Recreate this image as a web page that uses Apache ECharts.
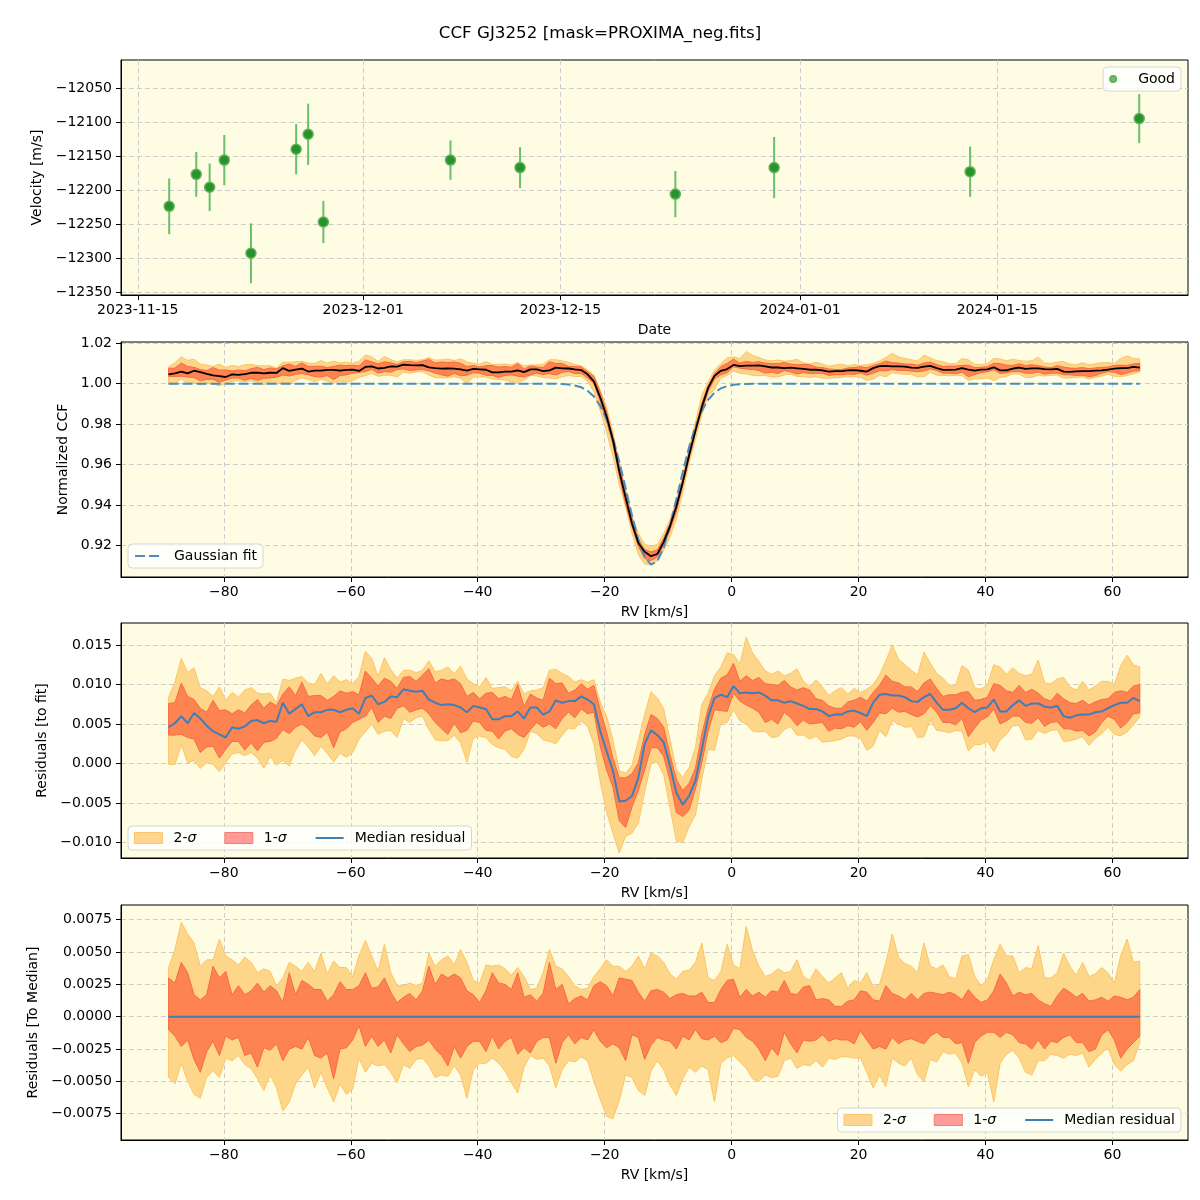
<!DOCTYPE html>
<html>
<head>
<meta charset="utf-8">
<title>CCF GJ3252</title>
<script src="https://cdn.jsdelivr.net/npm/echarts@6/dist/echarts.min.js"></script>
<style>
  html, body { margin: 0; padding: 0; background: #fff; }
  #chart { width: 1200px; height: 1200px; }
</style>
</head>
<body>
<div id="chart"></div>
<script>
// ---- velocity time series (top panel) ----
const obsDates = ['2023-11-17T05:30', '2023-11-19T03:35', '2023-11-20T02:25', '2023-11-21T03:20',
  '2023-11-23T00:45', '2023-11-26T05:45', '2023-11-27T02:10', '2023-11-28T04:05',
  '2023-12-07T04:35', '2023-12-12T03:05', '2023-12-23T03:35', '2023-12-30T03:50',
  '2024-01-13T01:40', '2024-01-25T01:40'];
const velocity = [-12224, -12177, -12196, -12156, -12293, -12140, -12118, -12247,
  -12156, -12167, -12206, -12167, -12173, -12095];
const velocityErr = [41, 33, 35, 37, 44, 37, 45, 31, 29, 30, 34, 45, 37, 36];
const dateTicks = ['2023-11-15', '2023-12-01', '2023-12-15', '2024-01-01', '2024-01-15'];

// ---- CCF grid ----
const rv = [
  -88.7, -87.7, -86.7, -85.7, -84.7, -83.7, -82.7, -81.7, -80.7, -79.7,
  -78.7, -77.7, -76.7, -75.7, -74.7, -73.7, -72.7, -71.7, -70.7, -69.7,
  -68.7, -67.7, -66.7, -65.7, -64.7, -63.7, -62.7, -61.7, -60.7, -59.7,
  -58.7, -57.7, -56.7, -55.7, -54.7, -53.7, -52.7, -51.7, -50.7, -49.7,
  -48.7, -47.7, -46.7, -45.7, -44.7, -43.7, -42.7, -41.7, -40.7, -39.7,
  -38.7, -37.7, -36.7, -35.7, -34.7, -33.7, -32.7, -31.7, -30.7, -29.7,
  -28.7, -27.7, -26.7, -25.7, -24.7, -23.7, -22.7, -21.7, -20.7, -19.7,
  -18.7, -17.7, -16.7, -15.7, -14.7, -13.7, -12.7, -11.7, -10.7, -9.7,
  -8.7, -7.7, -6.7, -5.7, -4.7, -3.7, -2.7, -1.7, -0.7, 0.3,
  1.3, 2.3, 3.3, 4.3, 5.3, 6.3, 7.3, 8.3, 9.3, 10.3,
  11.3, 12.3, 13.3, 14.3, 15.3, 16.3, 17.3, 18.3, 19.3, 20.3,
  21.3, 22.3, 23.3, 24.3, 25.3, 26.3, 27.3, 28.3, 29.3, 30.3,
  31.3, 32.3, 33.3, 34.3, 35.3, 36.3, 37.3, 38.3, 39.3, 40.3,
  41.3, 42.3, 43.3, 44.3, 45.3, 46.3, 47.3, 48.3, 49.3, 50.3,
  51.3, 52.3, 53.3, 54.3, 55.3, 56.3, 57.3, 58.3, 59.3, 60.3,
  61.3, 62.3, 63.3, 64.3];

// gaussian fit to the CCF
const gaussFit = [
  1, 1, 1, 1, 1, 1, 1, 1, 1, 1,
  1, 1, 1, 1, 1, 1, 1, 1, 1, 1,
  1, 1, 1, 1, 1, 1, 1, 1, 1, 1,
  1, 1, 1, 1, 1, 1, 1, 1, 1, 1,
  1, 1, 1, 1, 1, 1, 1, 1, 1, 1,
  1, 1, 1, 1, 1, 1, 1, 1, 1, 1,
  1, 0.99993, 0.99984, 0.99961, 0.99914, 0.99822, 0.99653, 0.99365, 0.98906, 0.98229,
  0.97308, 0.96155, 0.94843, 0.93501, 0.92306, 0.91444, 0.91061, 0.91227, 0.91912, 0.92995,
  0.94301, 0.95643, 0.96872, 0.97890, 0.98663, 0.99204, 0.99555, 0.99766, 0.99885, 0.99946,
  0.99977, 0.99990, 1, 1, 1, 1, 1, 1, 1, 1,
  1, 1, 1, 1, 1, 1, 1, 1, 1, 1,
  1, 1, 1, 1, 1, 1, 1, 1, 1, 1,
  1, 1, 1, 1, 1, 1, 1, 1, 1, 1,
  1, 1, 1, 1, 1, 1, 1, 1, 1, 1,
  1, 1, 1, 1, 1, 1, 1, 1, 1, 1,
  1, 1, 1, 1];

// median residual (CCF - fit)
const resMedian = [
  0.0046, 0.0051, 0.0060, 0.0051, 0.0064, 0.0057, 0.0048, 0.0041, 0.0037, 0.0033,
  0.0046, 0.0044, 0.0047, 0.0054, 0.0055, 0.0051, 0.0054, 0.0053, 0.0077, 0.0063,
  0.0069, 0.0075, 0.0060, 0.0065, 0.0065, 0.0068, 0.0068, 0.0065, 0.0068, 0.0070,
  0.0063, 0.0083, 0.0086, 0.0075, 0.0078, 0.0085, 0.0084, 0.0094, 0.0092, 0.0091,
  0.0092, 0.0081, 0.0077, 0.0074, 0.0075, 0.0074, 0.0071, 0.0065, 0.0073, 0.0071,
  0.0069, 0.0056, 0.0056, 0.0060, 0.0060, 0.0066, 0.0057, 0.0071, 0.0071, 0.0062,
  0.0066, 0.0080, 0.0077, 0.0079, 0.0079, 0.0085, 0.0081, 0.0075, 0.0041, 0.0016,
  -0.0009, -0.0048, -0.0047, -0.0041, -0.0018, 0.0025, 0.0042, 0.0036, 0.0027, -0.0003,
  -0.0037, -0.0052, -0.0041, -0.0022, 0.0018, 0.0059, 0.0083, 0.0087, 0.0084, 0.0098,
  0.0089, 0.0090, 0.0089, 0.0090, 0.0086, 0.0080, 0.0080, 0.0077, 0.0079, 0.0076,
  0.0073, 0.0069, 0.0069, 0.0066, 0.0060, 0.0062, 0.0062, 0.0066, 0.0067, 0.0064,
  0.0060, 0.0077, 0.0087, 0.0088, 0.0086, 0.0086, 0.0084, 0.0079, 0.0078, 0.0084,
  0.0088, 0.0077, 0.0068, 0.0068, 0.0070, 0.0077, 0.0070, 0.0065, 0.0070, 0.0071,
  0.0081, 0.0066, 0.0066, 0.0074, 0.0080, 0.0073, 0.0076, 0.0076, 0.0072, 0.0071,
  0.0073, 0.0060, 0.0058, 0.0061, 0.0062, 0.0062, 0.0065, 0.0066, 0.0070, 0.0074,
  0.0077, 0.0077, 0.0083, 0.0079];

// spread around the median residual
const dev2Hi = [
  0.0038, 0.0052, 0.0073, 0.0064, 0.0057, 0.0039, 0.0044, 0.0044, 0.0060, 0.0047,
  0.0044, 0.0040, 0.0046, 0.0042, 0.0034, 0.0037, 0.0035, 0.0024, 0.0030, 0.0042,
  0.0039, 0.0035, 0.0042, 0.0035, 0.0049, 0.0033, 0.0043, 0.0038, 0.0038, 0.0031,
  0.0047, 0.0059, 0.0047, 0.0035, 0.0056, 0.0034, 0.0024, 0.0024, 0.0026, 0.0024,
  0.0026, 0.0049, 0.0039, 0.0044, 0.0047, 0.0040, 0.0052, 0.0042, 0.0028, 0.0026,
  0.0040, 0.0039, 0.0040, 0.0037, 0.0032, 0.0038, 0.0031, 0.0021, 0.0022, 0.0034,
  0.0052, 0.0039, 0.0037, 0.0031, 0.0024, 0.0021, 0.0022, 0.0031, 0.0037, 0.0044,
  0.0039, 0.0039, 0.0035, 0.0039, 0.0047, 0.0037, 0.0049, 0.0047, 0.0042, 0.0033,
  0.0029, 0.0035, 0.0036, 0.0042, 0.0057, 0.0030, 0.0028, 0.0035, 0.0056, 0.0040,
  0.0037, 0.0070, 0.0051, 0.0039, 0.0031, 0.0033, 0.0037, 0.0034, 0.0035, 0.0044,
  0.0031, 0.0028, 0.0037, 0.0031, 0.0026, 0.0030, 0.0034, 0.0022, 0.0028, 0.0026,
  0.0034, 0.0023, 0.0025, 0.0042, 0.0064, 0.0046, 0.0041, 0.0039, 0.0034, 0.0057,
  0.0039, 0.0037, 0.0040, 0.0031, 0.0029, 0.0047, 0.0048, 0.0031, 0.0024, 0.0029,
  0.0044, 0.0056, 0.0047, 0.0047, 0.0034, 0.0038, 0.0037, 0.0055, 0.0030, 0.0030,
  0.0034, 0.0049, 0.0039, 0.0032, 0.0042, 0.0031, 0.0033, 0.0038, 0.0034, 0.0026,
  0.0047, 0.0060, 0.0042, 0.0043];
const dev1Hi = [
  0.0030, 0.0026, 0.0042, 0.0034, 0.0017, 0.0013, 0.0017, 0.0039, 0.0030, 0.0035,
  0.0017, 0.0024, 0.0017, 0.0020, 0.0026, 0.0019, 0.0024, 0.0020, 0.0011, 0.0034,
  0.0017, 0.0028, 0.0025, 0.0021, 0.0021, 0.0012, 0.0017, 0.0027, 0.0021, 0.0021,
  0.0024, 0.0034, 0.0022, 0.0023, 0.0030, 0.0019, 0.0011, 0.0015, 0.0018, 0.0013,
  0.0020, 0.0039, 0.0025, 0.0033, 0.0030, 0.0033, 0.0030, 0.0020, 0.0017, 0.0011,
  0.0020, 0.0034, 0.0026, 0.0025, 0.0021, 0.0034, 0.0015, 0.0017, 0.0012, 0.0018,
  0.0042, 0.0021, 0.0025, 0.0010, 0.0014, 0.0016, 0.0013, 0.0024, 0.0027, 0.0024,
  0.0016, 0.0030, 0.0029, 0.0028, 0.0019, 0.0012, 0.0020, 0.0021, 0.0019, 0.0014,
  0.0017, 0.0018, 0.0016, 0.0016, 0.0019, 0.0011, 0.0011, 0.0021, 0.0028, 0.0029,
  0.0015, 0.0021, 0.0016, 0.0019, 0.0015, 0.0020, 0.0019, 0.0028, 0.0018, 0.0017,
  0.0023, 0.0024, 0.0013, 0.0014, 0.0013, 0.0008, 0.0008, 0.0012, 0.0013, 0.0020,
  0.0019, 0.0013, 0.0012, 0.0024, 0.0018, 0.0016, 0.0013, 0.0018, 0.0013, 0.0018,
  0.0019, 0.0018, 0.0017, 0.0019, 0.0017, 0.0013, 0.0021, 0.0015, 0.0011, 0.0013,
  0.0020, 0.0033, 0.0026, 0.0016, 0.0019, 0.0017, 0.0018, 0.0013, 0.0010, 0.0008,
  0.0016, 0.0022, 0.0019, 0.0015, 0.0018, 0.0012, 0.0013, 0.0015, 0.0012, 0.0016,
  0.0015, 0.0013, 0.0015, 0.0021];
const dev1Lo = [
  -0.0010, -0.0015, -0.0023, -0.0018, -0.0033, -0.0043, -0.0027, -0.0019, -0.0030, -0.0015,
  -0.0018, -0.0016, -0.0030, -0.0028, -0.0039, -0.0024, -0.0026, -0.0021, -0.0034, -0.0025,
  -0.0023, -0.0025, -0.0016, -0.0030, -0.0032, -0.0028, -0.0048, -0.0025, -0.0024, -0.0018,
  -0.0007, -0.0023, -0.0015, -0.0023, -0.0018, -0.0028, -0.0014, -0.0021, -0.0027, -0.0023,
  -0.0022, -0.0018, -0.0025, -0.0030, -0.0038, -0.0023, -0.0032, -0.0023, -0.0019, -0.0019,
  -0.0027, -0.0015, -0.0025, -0.0019, -0.0016, -0.0029, -0.0024, -0.0028, -0.0019, -0.0016,
  -0.0016, -0.0036, -0.0020, -0.0014, -0.0021, -0.0016, -0.0018, -0.0010, -0.0019, -0.0024,
  -0.0021, -0.0024, -0.0034, -0.0014, -0.0016, -0.0033, -0.0022, -0.0016, -0.0018, -0.0019,
  -0.0025, -0.0015, -0.0018, -0.0010, -0.0017, -0.0018, -0.0015, -0.0020, -0.0018, -0.0009,
  -0.0010, -0.0016, -0.0019, -0.0025, -0.0034, -0.0024, -0.0030, -0.0012, -0.0021, -0.0028,
  -0.0018, -0.0019, -0.0018, -0.0014, -0.0019, -0.0017, -0.0018, -0.0018, -0.0021, -0.0011,
  -0.0018, -0.0025, -0.0023, -0.0025, -0.0016, -0.0021, -0.0018, -0.0017, -0.0019, -0.0021,
  -0.0015, -0.0012, -0.0016, -0.0016, -0.0021, -0.0020, -0.0036, -0.0020, -0.0015, -0.0012,
  -0.0012, -0.0016, -0.0012, -0.0014, -0.0020, -0.0021, -0.0025, -0.0018, -0.0025, -0.0019,
  -0.0020, -0.0016, -0.0014, -0.0020, -0.0020, -0.0027, -0.0025, -0.0014, -0.0010, -0.0018,
  -0.0032, -0.0025, -0.0020, -0.0015];
const dev2Lo = [
  -0.0047, -0.0052, -0.0036, -0.0050, -0.0060, -0.0063, -0.0047, -0.0042, -0.0047, -0.0032,
  -0.0034, -0.0030, -0.0037, -0.0040, -0.0048, -0.0057, -0.0045, -0.0055, -0.0073, -0.0066,
  -0.0052, -0.0045, -0.0039, -0.0055, -0.0043, -0.0055, -0.0066, -0.0052, -0.0060, -0.0056,
  -0.0032, -0.0043, -0.0036, -0.0038, -0.0037, -0.0043, -0.0051, -0.0037, -0.0040, -0.0033,
  -0.0032, -0.0038, -0.0047, -0.0045, -0.0046, -0.0038, -0.0045, -0.0063, -0.0041, -0.0036,
  -0.0036, -0.0032, -0.0036, -0.0042, -0.0051, -0.0059, -0.0039, -0.0030, -0.0033, -0.0032,
  -0.0038, -0.0055, -0.0041, -0.0034, -0.0035, -0.0031, -0.0034, -0.0050, -0.0064, -0.0077,
  -0.0079, -0.0065, -0.0045, -0.0047, -0.0057, -0.0061, -0.0042, -0.0034, -0.0041, -0.0053,
  -0.0061, -0.0048, -0.0039, -0.0043, -0.0038, -0.0041, -0.0066, -0.0036, -0.0032, -0.0030,
  -0.0035, -0.0040, -0.0048, -0.0050, -0.0045, -0.0047, -0.0046, -0.0034, -0.0032, -0.0040,
  -0.0037, -0.0038, -0.0034, -0.0039, -0.0032, -0.0033, -0.0031, -0.0031, -0.0032, -0.0032,
  -0.0043, -0.0055, -0.0045, -0.0054, -0.0032, -0.0036, -0.0038, -0.0032, -0.0045, -0.0050,
  -0.0033, -0.0035, -0.0027, -0.0029, -0.0028, -0.0036, -0.0054, -0.0041, -0.0046, -0.0043,
  -0.0066, -0.0036, -0.0029, -0.0026, -0.0032, -0.0043, -0.0045, -0.0034, -0.0034, -0.0029,
  -0.0030, -0.0032, -0.0029, -0.0030, -0.0028, -0.0039, -0.0033, -0.0028, -0.0024, -0.0037,
  -0.0042, -0.0037, -0.0034, -0.0020];

// tick labels
const velTicks = [-12350, -12300, -12250, -12200, -12150, -12100, -12050];
const rvTicks = [-80, -60, -40, -20, 0, 20, 40, 60];
const ccfTicks = [0.92, 0.94, 0.96, 0.98, 1.00, 1.02];
const resTicks = [-0.010, -0.005, 0.000, 0.005, 0.010, 0.015];
const medTicks = [-0.0075, -0.0050, -0.0025, 0.0000, 0.0025, 0.0050, 0.0075];

const FONT = 'DejaVu Sans';
const ts = s => Date.parse(s.length > 10 ? s + 'Z' : s + 'T00:00Z');
const pad = n => (n < 10 ? '0' : '') + n;
const minus = s => s.replace(/^-/, '\u2212');
const fixed = d => v => minus(Number(v).toFixed(d));
const dateFmt = v => {
  const d = new Date(v);
  return d.getUTCFullYear() + '-' + pad(d.getUTCMonth() + 1) + '-' + pad(d.getUTCDate());
};

const FILL2 = '#fed68a', EDGE2 = '#fdc465';
const FILL1 = '#fd8351', EDGE1 = '#f86a42';
const BLUE = '#3f7fb5';
const NO_SYMBOL = {color: 'rgba(0,0,0,0)', borderColor: 'rgba(0,0,0,0)', borderWidth: 0};

function axis(grid, min, max, ticks, fmt, name, gap, vertical) {
  return {
    type: 'value', gridIndex: grid, min: min, max: max,
    name: name, nameLocation: 'middle', nameGap: gap, nameRotate: vertical ? 90 : 0,
    nameTextStyle: {color: '#000', fontSize: 14, fontFamily: FONT},
    axisLine: {show: true, onZero: false, lineStyle: {color: '#000', width: 1}},
    axisTick: {show: true, length: 5, customValues: ticks, lineStyle: {color: '#000', width: 1}},
    axisLabel: {customValues: ticks, formatter: fmt, color: '#000', fontSize: 14,
      fontFamily: FONT, margin: vertical ? 9 : 8},
    splitLine: {show: true, lineStyle: {color: '#cccccc', width: 1, type: [5, 3]}}
  };
}

// filled band between lo and hi, drawn as one polygon through the axis scales
function band(name, grid, lo, hi, fill, edge) {
  return {
    name: name, type: 'custom', xAxisIndex: grid, yAxisIndex: grid, silent: true, z: 2,
    data: rv.map((v, i) => [v, lo[i], hi[i]]),
    encode: {x: 0, y: [1, 2]},
    renderItem: function (params, api) {
      if (params.dataIndex !== 0) return null;
      const pts = [];
      for (let i = 0; i < rv.length; i++) pts.push(api.coord([rv[i], hi[i]]));
      for (let i = rv.length - 1; i >= 0; i--) pts.push(api.coord([rv[i], lo[i]]));
      return {type: 'polygon', shape: {points: pts},
        style: {fill: fill, stroke: edge, lineWidth: 1}};
    }
  };
}

function line(name, grid, ys, color, width, dash) {
  return {
    name: name, type: 'line', xAxisIndex: grid, yAxisIndex: grid, z: 3,
    symbol: 'none', silent: true,
    data: rv.map((v, i) => [v, ys[i]]),
    itemStyle: {color: color},
    lineStyle: {color: color, width: width, type: dash || 'solid'}
  };
}

const ccfMedian = rv.map((v, i) => gaussFit[i] + resMedian[i]);
const add = (a, b, c) => a.map((x, i) => x + b[i] + (c ? c[i] : 0));
const zeroMed = resMedian.map(r => r - r);

const legendBase = {
  orient: 'horizontal', itemWidth: 28, itemHeight: 11, itemGap: 28,
  backgroundColor: 'rgba(255,255,255,0.8)', borderColor: '#d6d6d6', borderWidth: 1,
  borderRadius: 4, padding: [5, 6], selectedMode: false,
  textStyle: {color: '#000', fontSize: 14, fontFamily: FONT, padding: [0, 0, 0, 6],
    rich: {i: {fontStyle: 'italic', fontSize: 14, fontFamily: FONT, color: '#000'}}},
  formatter: name => name.replace('σ', '{i|σ}')
};
const sigmaLegend = [
  {name: '2-σ', icon: 'rect', itemStyle: {color: '#fed590', borderColor: '#fdc66b', borderWidth: 1}},
  {name: '1-σ', icon: 'rect', itemStyle: {color: '#ff9c98', borderColor: '#f47c74', borderWidth: 1}},
  {name: 'Median residual', itemStyle: NO_SYMBOL, lineStyle: {color: BLUE, width: 2}}
];

const gridBase = {left: 121, right: 12, height: 235, show: true, backgroundColor: '#fefce3',
  borderColor: '#000', borderWidth: 1, containLabel: false, outerBoundsMode: 'none'};

const option = {
  animation: false,
  textStyle: {fontFamily: FONT},
  title: {text: 'CCF GJ3252 [mask=PROXIMA_neg.fits]', left: 'center', top: 20,
    textStyle: {fontSize: 16.7, fontWeight: 'normal', color: '#000', fontFamily: FONT}},
  grid: [
    Object.assign({top: 60}, gridBase),
    Object.assign({top: 342}, gridBase),
    Object.assign({top: 623}, gridBase),
    Object.assign({top: 905}, gridBase)
  ],
  xAxis: [
    axis(0, ts('2023-11-13T19:25'), ts('2024-01-28T12:45'), dateTicks.map(ts), dateFmt, 'Date', 28, false),
    axis(1, -96.2, 71.9, rvTicks, v => minus(String(v)), 'RV [km/s]', 28, false),
    axis(2, -96.2, 71.9, rvTicks, v => minus(String(v)), 'RV [km/s]', 28, false),
    axis(3, -96.2, 71.9, rvTicks, v => minus(String(v)), 'RV [km/s]', 28, false)
  ],
  yAxis: [
    axis(0, -12354.4, -12008.8, velTicks, v => minus(String(v)), 'Velocity [m/s]', 73, true),
    axis(1, 0.9045, 1.0206, ccfTicks, fixed(2), 'Normalized CCF', 49, true),
    axis(2, -0.01194, 0.01778, resTicks, fixed(3), 'Residuals [to fit]', 69, true),
    axis(3, -0.009534, 0.008637, medTicks, fixed(4), 'Residuals [To Median]', 78, true)
  ],
  legend: [
    Object.assign({}, legendBase, {right: 19, top: 67, itemHeight: 6,
      data: [{name: 'Good', icon: 'circle', itemStyle: {color: '#6abf6a'}}]}),
    Object.assign({}, legendBase, {left: 128, top: 544,
      data: [{name: 'Gaussian fit', itemStyle: NO_SYMBOL,
        lineStyle: {color: '#4a8cc2', width: 2, type: [10, 4]}}]}),
    Object.assign({}, legendBase, {left: 128, top: 826, data: sigmaLegend}),
    Object.assign({}, legendBase, {right: 19, top: 1108, data: sigmaLegend})
  ],
  series: [
    // top panel: error bars then points
    {
      name: 'errors', type: 'custom', xAxisIndex: 0, yAxisIndex: 0, silent: true, z: 2,
      data: obsDates.map((d, i) => [ts(d), velocity[i], velocityErr[i]]),
      renderItem: function (params, api) {
        const x = api.value(0), y = api.value(1), e = api.value(2);
        const top = api.coord([x, y + e]), bot = api.coord([x, y - e]);
        return {type: 'line', shape: {x1: top[0], y1: top[1], x2: bot[0], y2: bot[1]},
          style: {stroke: '#6abf6a', lineWidth: 2}};
      }
    },
    {
      name: 'Good', type: 'scatter', xAxisIndex: 0, yAxisIndex: 0, z: 3, silent: true,
      symbolSize: 10,
      itemStyle: {color: '#2a922a', borderColor: '#5cb35c', borderWidth: 1.5, opacity: 1},
      data: obsDates.map((d, i) => [ts(d), velocity[i]])
    },
    // CCF panel
    band('2-σ', 1, add(gaussFit, resMedian, dev2Lo), add(gaussFit, resMedian, dev2Hi), FILL2, EDGE2),
    band('1-σ', 1, add(gaussFit, resMedian, dev1Lo), add(gaussFit, resMedian, dev1Hi), FILL1, EDGE1),
    line('Gaussian fit', 1, gaussFit, '#4a8cc2', 2, [10, 4]),
    line('CCF median', 1, ccfMedian, '#000', 1.8),
    // residuals to fit
    band('2-σ', 2, add(resMedian, dev2Lo), add(resMedian, dev2Hi), FILL2, EDGE2),
    band('1-σ', 2, add(resMedian, dev1Lo), add(resMedian, dev1Hi), FILL1, EDGE1),
    line('Median residual', 2, resMedian, BLUE, 2),
    // residuals to median
    band('2-σ', 3, dev2Lo, dev2Hi, FILL2, EDGE2),
    band('1-σ', 3, dev1Lo, dev1Hi, FILL1, EDGE1),
    line('Median residual', 3, zeroMed, BLUE, 2)
  ]
};

const chart = echarts.init(document.getElementById('chart'));
chart.setOption(option);
</script>
</body>
</html>
